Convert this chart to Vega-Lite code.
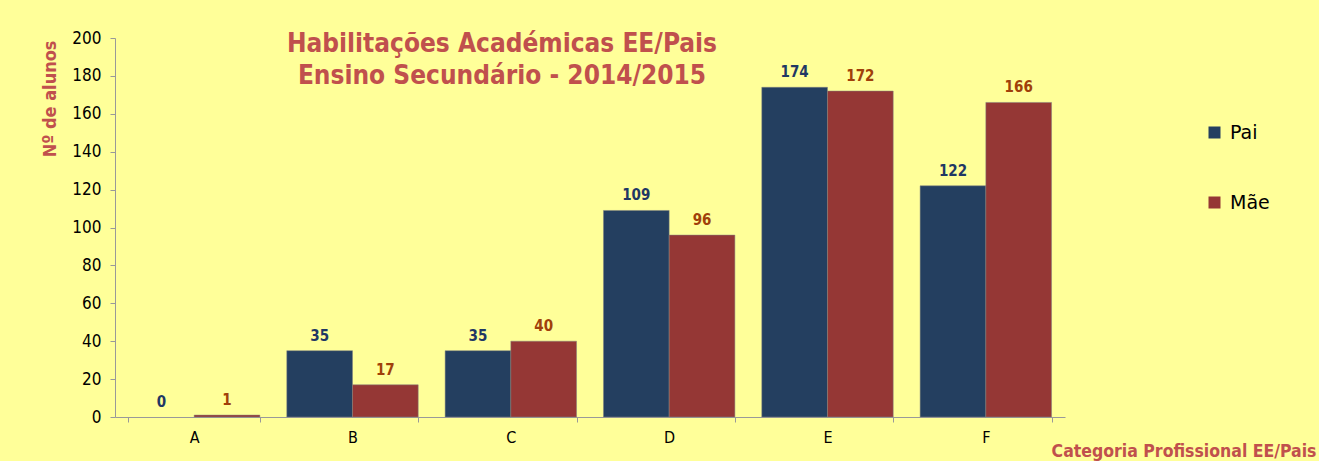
{
  "$schema": "https://vega.github.io/schema/vega-lite/v6.json",
  "autosize": "none",
  "width": 950,
  "height": 379,
  "padding": {"left": 115, "top": 38, "right": 254, "bottom": 44},
  "background": "#FFFF99",
  "config": {
    "view": {"stroke": null},
    "font": "DejaVu Sans Condensed, DejaVu Sans, sans-serif"
  },
  "title": {
    "text": ["Habilitações Académicas EE/Pais", "Ensino Secundário - 2014/2015"],
    "anchor": "middle",
    "dx": -88,
    "offset": -60,
    "baseline": "top",
    "lineHeight": 32,
    "fontSize": 26,
    "fontWeight": "bold",
    "color": "#C0504D",
    "font": "DejaVu Sans Condensed, DejaVu Sans, sans-serif"
  },
  "data": {
    "values": [
      {"cat": "A", "serie": "Pai", "value": 0},
      {"cat": "A", "serie": "Mãe", "value": 1},
      {"cat": "B", "serie": "Pai", "value": 35},
      {"cat": "B", "serie": "Mãe", "value": 17},
      {"cat": "C", "serie": "Pai", "value": 35},
      {"cat": "C", "serie": "Mãe", "value": 40},
      {"cat": "D", "serie": "Pai", "value": 109},
      {"cat": "D", "serie": "Mãe", "value": 96},
      {"cat": "E", "serie": "Pai", "value": 174},
      {"cat": "E", "serie": "Mãe", "value": 172},
      {"cat": "F", "serie": "Pai", "value": 122},
      {"cat": "F", "serie": "Mãe", "value": 166}
    ]
  },
  "encoding": {
    "x": {
      "field": "cat",
      "type": "nominal",
      "scale": {"paddingInner": 0.17, "paddingOuter": 0.085},
      "axis": {
        "title": "Categoria Profissional EE/Pais",
        "titleColor": "#C0504D",
        "titleFontSize": 17.5,
        "titleFontWeight": "bold",
        "titleAnchor": null,
        "titleAlign": "right",
        "titleBaseline": "middle",
        "titleX": 1201,
        "titleY": 34,
        "labelAngle": 0,
        "labelFontSize": 16,
        "labelColor": "#000000",
        "labelPadding": 7,
        "tickBand": "extent",
        "tickSize": 5,
        "tickColor": "#999999",
        "domainColor": "#999999",
        "grid": false
      }
    },
    "xOffset": {"field": "serie", "type": "nominal", "sort": ["Pai", "Mãe"], "scale": {"paddingInner": 0, "paddingOuter": 0}},
    "y": {
      "field": "value",
      "type": "quantitative",
      "scale": {"domain": [0, 200], "nice": false},
      "axis": {
        "title": "Nº de alunos",
        "titleColor": "#C0504D",
        "titleFontSize": 18,
        "titleFontWeight": "bold",
        "titleAngle": -90,
        "titleAlign": "right",
        "titleBaseline": "middle",
        "titleAnchor": null,
        "titleX": -65,
        "titleY": 2,
        "values": [0, 20, 40, 60, 80, 100, 120, 140, 160, 180, 200],
        "labelFontSize": 17,
        "labelColor": "#000000",
        "labelPadding": 9,
        "tickSize": 5,
        "tickColor": "#999999",
        "domainColor": "#999999",
        "grid": false
      }
    }
  },
  "layer": [
    {
      "mark": {"type": "bar", "stroke": "#808080", "strokeWidth": 0.5},
      "encoding": {
        "strokeOpacity": {"condition": {"test": "datum.value === 0", "value": 0}, "value": 1},
        "color": {
          "field": "serie",
          "type": "nominal",
          "sort": ["Pai", "Mãe"],
          "scale": {"domain": ["Pai", "Mãe"], "range": ["#243F60", "#953735"]},
          "legend": {
            "title": null,
            "orient": "none",
            "legendX": 1090,
            "legendY": 85,
            "symbolType": "square",
            "symbolSize": 144,
            "symbolStrokeWidth": 0,
            "labelFontSize": 19,
            "labelColor": "#000000",
            "labelFont": "DejaVu Sans, sans-serif",
            "rowPadding": 50,
            "labelOffset": 6
          }
        }
      }
    },
    {
      "mark": {"type": "text", "baseline": "alphabetic", "dy": -10, "fontSize": 15, "fontWeight": "bold"},
      "encoding": {
        "text": {"field": "value", "type": "quantitative"},
        "color": {"condition": {"test": "datum.serie === 'Pai'", "value": "#1F3864"}, "value": "#A0400A"}
      }
    }
  ]
}
